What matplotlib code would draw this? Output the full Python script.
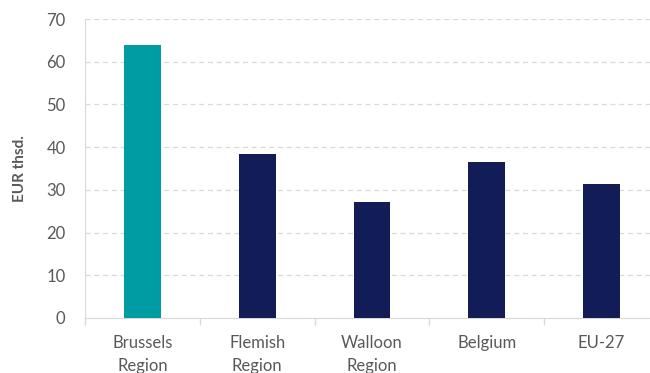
import numpy as np
import matplotlib.pyplot as plt

regions = ["Brussels\nRegion", "Flemish\nRegion", "Walloon\nRegion", "Belgium", "EU-27"]
values = [63.9, 38.3, 27.2, 36.6, 31.4]
colors = ["#009CA3", "#121D57", "#121D57", "#121D57", "#121D57"]
yticks = [0, 10, 20, 30, 40, 50, 60, 70]

plt.rcParams['font.family'] = ['Lato', 'DejaVu Sans']
txt = '#595959'

fig = plt.figure(figsize=(6.5, 3.73), dpi=100)
ax = fig.add_axes([85/650, 55/373, 574/650, 299/373])

x = np.arange(len(regions))
ax.bar(x, values, width=0.32, color=colors, zorder=3)

ax.set_xlim(-0.5, len(regions) - 0.5)
ax.set_ylim(0, 70)
ax.set_yticks(yticks)
ax.yaxis.grid(True, ls=(0, (4, 3)), color='#D9D9D9', lw=0.9, zorder=0)

ax.set_xticks(x)
ax.set_xticklabels(regions, fontsize=12, color=txt, linespacing=1.55)
ax.set_xticks(np.arange(len(regions) + 1) - 0.5, minor=True)
ax.tick_params(axis='x', which='major', length=0, pad=12)
ax.tick_params(axis='x', which='minor', length=5, color='#D9D9D9', width=1)
ax.tick_params(axis='y', length=0, labelsize=12, labelcolor=txt, pad=14)

for s in ['top', 'right']:
    ax.spines[s].set_visible(False)
ax.spines['left'].set_color('#D9D9D9')
ax.spines['bottom'].set_color('#D9D9D9')

ax.set_ylabel('EUR thsd.', fontsize=11, fontweight='bold', color=txt, labelpad=14)

fig.savefig('out.png', dpi=100)
